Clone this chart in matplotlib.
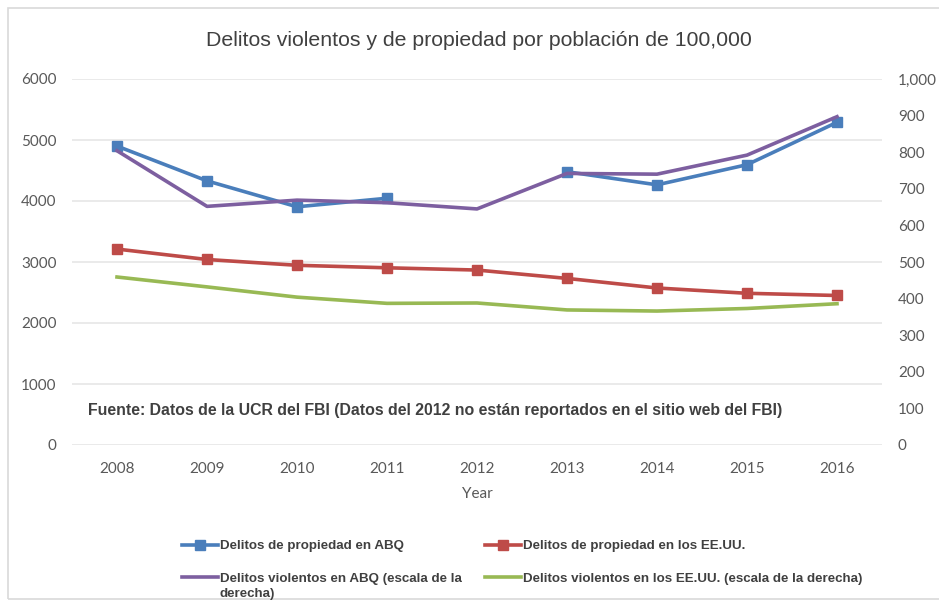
import numpy as np
import matplotlib
matplotlib.use("Agg")
import matplotlib.pyplot as plt
from matplotlib.patches import Rectangle
from matplotlib.ticker import FuncFormatter

years = ["2008", "2009", "2010", "2011", "2012", "2013", "2014", "2015", "2016"]
prop_abq = [4900, 4330, 3905, 4045, np.nan, 4480, 4265, 4595, 5290]
prop_us = [3212, 3041, 2946, 2905, 2868, 2731, 2574, 2487, 2451]
viol_abq = [804, 652, 669, 662, 645, 742, 740, 792, 897]
viol_us = [459, 432, 404, 387, 388, 369, 366, 373, 386]

labels = ["Delitos de propiedad en ABQ",
          "Delitos de propiedad en los EE.UU.",
          "Delitos violentos en ABQ (escala de la",
          "Delitos violentos en los EE.UU. (escala de la derecha)"]
label_wrap = "derecha)"
title = "Delitos violentos y de propiedad por población de 100,000"
note = "Fuente: Datos de la UCR del FBI (Datos del 2012 no están reportados en el sitio web del FBI)"

c_blue = "#4A7EBB"
c_red = "#BE4B48"
c_purple = "#7D5FA0"
c_green = "#98B954"
tick_col = "#595959"

W, H = 939, 601
fig = plt.figure(figsize=(W / 100, H / 100), dpi=100)

def fx(px):
    return px / W

def fy(py):
    return 1 - py / H

# outer chart border
fig.patches.append(Rectangle((fx(7.5), fy(599)), 1.2, fy(8) - fy(599),
                             transform=fig.transFigure, fill=False,
                             edgecolor="#D9D9D9", linewidth=1.2))

ax = fig.add_axes([fx(72), fy(445), fx(882) - fx(72), fy(79) - fy(445)])
ax2 = ax.twinx()

x = np.arange(len(years))
ax.set_xlim(-0.5, len(years) - 0.5)
ax.set_ylim(0, 6000)
ax2.set_ylim(0, 1000)
ax.set_yticks(np.arange(0, 6001, 1000))
ax2.set_yticks(np.arange(0, 1001, 100))
ax2.yaxis.set_major_formatter(FuncFormatter(lambda v, p: f"{int(v):,}"))
ax.set_xticks(x)
ax.set_xticklabels(years)

for a in (ax, ax2):
    for s in a.spines.values():
        s.set_visible(False)
    a.tick_params(length=0, labelsize=11, labelcolor=tick_col, labelfontfamily="Lato")
ax.tick_params(axis="y", pad=11)
ax.tick_params(axis="x", pad=12)
ax2.tick_params(axis="y", pad=11.5)
ax.grid(axis="y", color="#E6E6E6", linewidth=1.2)
ax.set_axisbelow(True)

ax.set_xlabel("Year", fontsize=11, color=tick_col, family="Lato", labelpad=8)

lw = 2.6
l_bp, = ax.plot(x, prop_abq, color=c_blue, lw=lw, marker="s", markersize=7, zorder=2)
l_rp, = ax.plot(x, prop_us, color=c_red, lw=lw, marker="s", markersize=7, zorder=2)
l_pv, = ax2.plot(x, viol_abq, color=c_purple, lw=lw, zorder=3)
l_gv, = ax2.plot(x, viol_us, color=c_green, lw=lw, zorder=3)

fig.text(fx(479), fy(40), title, ha="center", va="center", fontsize=15.3,
         color="#404040", family=["Liberation Sans", "DejaVu Sans"])

fig.text(fx(88), fy(411), note, ha="left", va="center", fontsize=11.4,
         fontweight="bold", color="#404040", family=["Liberation Sans", "DejaVu Sans"])

leg_font = dict(family=["Liberation Sans", "DejaVu Sans"], weight="bold", size=9.6)
leg = fig.legend([l_bp, l_pv, l_rp, l_gv], [labels[0], labels[2], labels[1], labels[3]],
                 ncol=2, loc="upper left", bbox_to_anchor=(fx(182), fy(540)),
                 frameon=False, borderpad=0, borderaxespad=0,
                 handlelength=2.7, handletextpad=0.15, columnspacing=1.7,
                 labelspacing=1.5, prop=leg_font, labelcolor="#404040")
fig.canvas.draw()
t = leg.get_texts()[1]
bb = t.get_window_extent()
fig.text(bb.x0 / W, (bb.y0 - 3) / H, label_wrap, ha="left", va="top",
         color="#404040", fontproperties=t.get_fontproperties())

fig.savefig("out.png", dpi=100)
